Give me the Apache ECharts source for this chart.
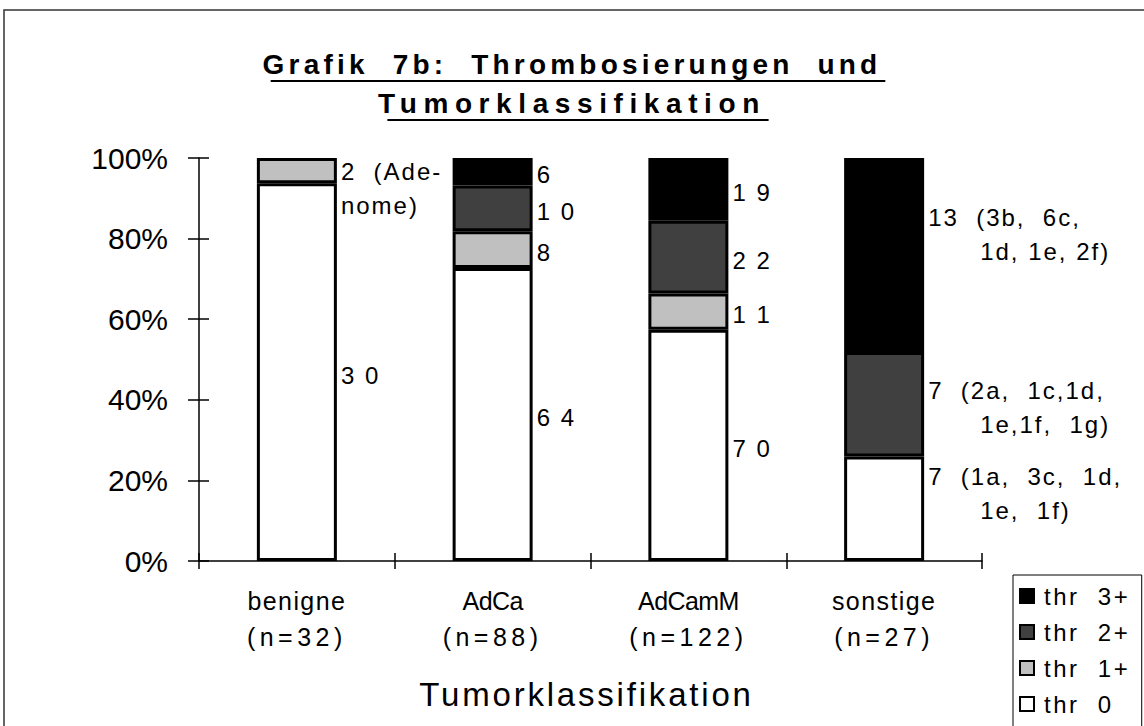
<!DOCTYPE html>
<html>
<head>
<meta charset="utf-8">
<script src="https://cdn.jsdelivr.net/npm/echarts@6/dist/echarts.min.js"></script>
<style>
	html, body { margin: 0; padding: 0; background: #fff; }
	#chart { width: 1144px; height: 726px; }
	#chart svg text { white-space: pre; }
</style>
</head>
<body>
<div id="chart"></div>
<script>
	// Tumorklassen (x-Achse)
	var categories = ['benigne\n(n=32)', 'AdCa\n(n=88)', 'AdCamM\n(n=122)', 'sonstige\n(n=27)'];
	// Anzahl je Thrombosierungsgrad
	var thr0 = [30, 64, 70, 7];
	var thr1 = [2, 8, 11, 0];
	var thr2 = [0, 10, 22, 7];
	var thr3 = [0, 6, 19, 13];
	// Beschriftungen rechts neben den Segmenten
	var labels0 = ['3 0', '6 4', '7 0', '7  (1a,  3c,  1d,\n      1e,  1f)'];
	var labels1 = ['2  (Ade-\nnome)', '8', '1 1', ''];
	var labels2 = ['', '1 0', '2 2', '7  (2a,  1c,1d,\n      1e,1f,  1g)'];
	var labels3 = ['', '6', '1 9', '13  (3b,  6c,\n      1d, 1e, 2f)'];
	var yLabels = ['0%', '20%', '40%', '60%', '80%', '100%'];
	var seriesNames = ['thr  0', 'thr  1+', 'thr  2+', 'thr  3+'];

	var FONT = '"Liberation Sans", Arial, sans-serif';
	var TITLE_SIZE = 28;

	var totals = categories.map(function(c, i) {
		return thr0[i] + thr1[i] + thr2[i] + thr3[i];
	});

	// vertikale Verschiebung einzelner Beschriftungen
	var labelShift = {
		'0-3': -15,
		'1-0': 18,
		'3-3': -21
	};

	// Zeichenabstand wie im Original (Excel-Export)
	function spacingFor(t, bold) {
		if(t.indexOf('Grafik') === 0) return 4.2;
		if(t === 'Tumorklassifikation') return bold ? 6.6 : 2.8;
		if(t.charAt(0) === '(') return 4.5;
		if(t === 'benigne' || t === 'sonstige') return 1.4;
		if(t === 'AdCa' || t === 'AdCamM') return -0.6;
		if(t.indexOf('thr') === 0) return 2.5;
		if(/%$/.test(t)) return 0;
		return 2;
	}

	function buildSeries(idx, counts, labels, color) {
		return {
			name: seriesNames[idx],
			type: 'bar',
			stack: 'total',
			barWidth: 80,
			xAxisIndex: 0,
			yAxisIndex: 0,
			itemStyle: {
				color: color,
				borderColor: '#000',
				borderWidth: 3
			},
			data: counts.map(function(v, i) {
				var dy = labelShift[idx + '-' + i];
				return {
					value: v > 0 ? v / totals[i] * 100 : '-',
					label: {
						show: v > 0,
						offset: [0, dy === undefined ? 3 : dy]
					}
				};
			}),
			label: {
				position: 'right',
				distance: 4,
				align: 'left',
				color: '#000',
				fontFamily: FONT,
				fontSize: 24,
				lineHeight: 34,
				formatter: function(p) {
					return labels[p.dataIndex];
				}
			}
		};
	}

	var chart = echarts.init(document.getElementById('chart'), null, { renderer: 'svg' });

	var titlePad = [5, 0, 5, 12];
	var option = {
		backgroundColor: '#fff',
		animation: false,
		title: {
			text: 'Grafik  7b:  Thrombosierungen  und\nTumorklassifikation',
			left: 'center',
			top: 40,
			padding: titlePad,
			textStyle: {
				fontFamily: FONT,
				fontWeight: 'bold',
				fontSize: TITLE_SIZE,
				lineHeight: 39,
				color: '#000'
			}
		},
		legend: {
			data: ['thr  3+', 'thr  2+', 'thr  1+', 'thr  0'],
			orient: 'vertical',
			left: 1013,
			top: 575,
			height: 220,
			padding: [9, 29, 20, 6],
			itemGap: 12,
			itemWidth: 14,
			itemHeight: 14,
			icon: 'rect',
			borderColor: '#000',
			borderWidth: 1,
			itemStyle: {
				borderColor: '#000',
				borderWidth: 2
			},
			textStyle: {
				fontFamily: FONT,
				fontSize: 24,
				lineHeight: 24,
				padding: [0, 0, 0, 5],
				color: '#000'
			}
		},
		grid: {
			left: 199,
			right: 162,
			top: 158,
			bottom: 165
		},
		xAxis: [{
			type: 'category',
			data: categories,
			position: 'bottom',
			axisLine: { lineStyle: { color: '#000', width: 1.5 } },
			axisTick: { show: true, length: 8, lineStyle: { color: '#000', width: 1.5 } },
			axisLabel: {
				color: '#000',
				fontFamily: FONT,
				fontSize: 25,
				lineHeight: 36,
				margin: 22,
				interval: 0
			},
			name: 'Tumorklassifikation',
			nameLocation: 'middle',
			nameGap: 117,
			nameTextStyle: {
				color: '#000',
				fontFamily: FONT,
				fontSize: 33,
				padding: [0, 8, 0, 0]
			}
		}, {
			type: 'category',
			data: categories,
			position: 'bottom',
			axisLine: { show: false },
			axisTick: { show: true, inside: true, length: 8, lineStyle: { color: '#000', width: 1.5 } },
			axisLabel: { show: false }
		}],
		yAxis: [{
			type: 'value',
			min: 0,
			max: 100,
			interval: 20,
			position: 'left',
			splitLine: { show: false },
			axisLine: { show: true, lineStyle: { color: '#000', width: 1.5 } },
			axisTick: { show: true, length: 11, lineStyle: { color: '#000', width: 1.5 } },
			axisLabel: {
				color: '#000',
				fontFamily: FONT,
				fontSize: 30,
				margin: 31,
				formatter: function(v) {
					return yLabels[Math.round(v / 20)];
				}
			}
		}, {
			type: 'value',
			min: 0,
			max: 100,
			interval: 20,
			position: 'left',
			splitLine: { show: false },
			axisLine: { show: false },
			axisTick: { show: true, inside: true, length: 10, lineStyle: { color: '#000', width: 1.5 } },
			axisLabel: { show: false }
		}],
		series: [
			buildSeries(0, thr0, labels0, '#ffffff'),
			buildSeries(1, thr1, labels1, '#c0c0c0'),
			buildSeries(2, thr2, labels2, '#404040'),
			buildSeries(3, thr3, labels3, '#000000')
		]
	};

	// Rahmen und Unterstreichung des Titels
	var ctx = document.createElement('canvas').getContext('2d');
	ctx.font = 'bold ' + TITLE_SIZE + 'px ' + FONT;
	var titleLines = option.title.text.split('\n');
	var cx = 1144 / 2 + (titlePad[3] - titlePad[1]) / 2;
	var underlineY = [81, 120];
	var graphics = [{
		type: 'rect',
		silent: true,
		z: -10,
		shape: { x: 4, y: 10, width: 1200, height: 800 },
		style: { fill: null, stroke: '#333', lineWidth: 1.5 }
	}];
	titleLines.forEach(function(t, i) {
		var ls = spacingFor(t, true);
		var w = ctx.measureText(t).width + ls * (t.length - 1);
		graphics.push({
			type: 'line',
			silent: true,
			shape: { x1: cx - w / 2, y1: underlineY[i], x2: cx + w / 2, y2: underlineY[i] },
			style: { stroke: '#000', lineWidth: 2 }
		});
	});
	option.graphic = graphics;

	function applySpacing() {
		var texts = document.querySelectorAll('#chart svg text');
		for(var i = 0; i < texts.length; i++) {
			var el = texts[i];
			var t = el.textContent;
			var bold = parseInt(getComputedStyle(el).fontWeight, 10) >= 600;
			var ls = spacingFor(t, bold);
			el.setAttribute('letter-spacing', ls + 'px');
			el.style.letterSpacing = ls + 'px';
		}
	}

	chart.on('finished', applySpacing);
	chart.setOption(option);
	applySpacing();
</script>
</body>
</html>
